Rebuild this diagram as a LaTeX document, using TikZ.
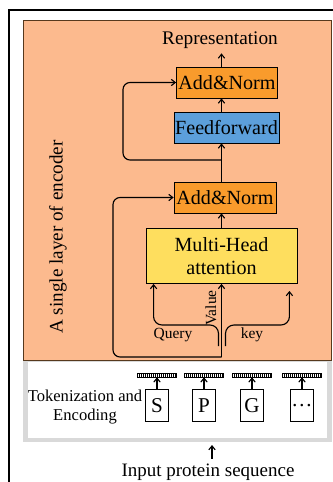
\documentclass[tikz,border=0pt]{standalone}
\usepackage{fontspec}
\setmainfont{Liberation Serif}
\usetikzlibrary{arrows.meta, positioning}
\definecolor{encbg}{HTML}{FCBA8E}
\definecolor{addorange}{HTML}{F99B2C}
\definecolor{ffblue}{HTML}{5C9FDB}
\definecolor{mhayellow}{HTML}{FEDE5E}

\tikzset{
    arr/.style={line width=0.8pt, -{Straight Barb[length=2.8pt,width=4.5pt]}},
    block/.style={draw, line width=0.6pt, inner sep=0pt, font=\fontsize{14.3}{16.5}\selectfont},
    lbl/.style={font=\fontsize{11}{13}\selectfont, inner sep=1pt},
    tokbox/.style={draw, line width=0.5pt, fill=white, minimum width=5.75mm, minimum height=8mm, inner sep=0pt, font=\fontsize{15}{17}\selectfont},
    tokbar/.style={draw, line width=0.4pt, minimum width=9.75mm, minimum height=1mm, inner sep=0pt,
        path picture={\foreach \k in {0.5,1,...,9.5}
            \draw[line width=0.3pt] ([xshift=\k mm]path picture bounding box.south west) -- ++(0,1mm);}}
}

\begin{document}
\begin{tikzpicture}[x=0.25mm, y=-0.25mm]
        \useasboundingbox (0,0) rectangle (333,482);

        % Outer frame
        \draw[line width=1.1pt] (9,520) -- (9,10) -- (360,10) -- (360,520);

        % Tokenization box
        \draw[draw=black!15, line width=3.5pt, fill=white] (25.5,360) rectangle (329.5,440);
        \node[lbl, font=\fontsize{11.8}{13.5}\selectfont, align=center] (toklbl) at (85,407) {Tokenization and\\Encoding};

        % The encoder layer background
        \draw[fill=encbg, draw=black!55!brown, line width=0.6pt] (23,20) rectangle (331,360);
        \node[rotate=90, font=\fontsize{13.6}{16}\selectfont] (enclbl) at (58,237) {A single layer of encoder};

        % Blocks of the encoder
        \node (repr) at (220,40) {\fontsize{13.7}{16}\selectfont Representation};
        \node[block, fill=addorange, minimum width=25.25mm, minimum height=7.75mm] (addtop) at (227,82.5) {Add\&Norm};
        \node[block, fill=ffblue, minimum width=26.25mm, minimum height=7.75mm] (ff) at (226.5,127.5) {Feedforward};
        \node[block, fill=addorange, minimum width=25.5mm, minimum height=7.75mm] (addlow) at (225,197.5) {Add\&Norm};
        \node[block, fill=mhayellow, minimum width=37.75mm, minimum height=13.75mm, align=center] (mha) at (221.5,256) {Multi-Head\\attention};

        % Points on the main line
        \coordinate (spine) at (221.5,357);
        \coordinate (split) at (221.5,160);
        \coordinate (qs) at (218.5,346);
        \coordinate (ks) at (225.5,346);

        % Main line and residual connections
        \draw[arr] (spine) -- (mha.south -| spine);
        \draw[arr] (mha.north -| spine) -- (addlow.south -| spine);
        \draw[arr] (addlow.north -| spine) -- (ff.south -| spine);
        \draw[arr] (ff.north -| spine) -- (addtop.south -| spine);
        \draw[arr] (addtop.north -| spine) -- (repr.south -| spine);
        \draw[arr, rounded corners=5pt] (spine) -- (113,357) |- (addlow.west);
        \draw[arr, rounded corners=5pt] (split) -- (123,160) |- (addtop.west);

        % Query and key
        \draw[arr, rounded corners=6pt] (qs) -- (218.5,325) -| ([xshift=2mm]mha.south west);
        \draw[arr, rounded corners=6pt] (ks) -- (225.5,325) -| ([xshift=-2mm,yshift=-1.75mm]mha.south east);
        \node[lbl] (qlbl) at (173,335) {Query};
        \node[lbl] (klbl) at (252,335) {key};
        \node[lbl, rotate=90] (vlbl) at (211,308) {Value};

        % Tokens and their embeddings
        \foreach \t/\x [count=\i] in {S/157, P/204, G/252, \ldots/302} {
            \node[tokbox] (tok\i) at (\x,405.5) {\t};
            \node[tokbar] (bar\i) at (\x,375) {};
            \draw[arr] (tok\i.north) -- (bar\i.south);
        }

        % Input
        \coordinate (seqin) at (212,445);
        \node (inp) at (208,472) {\fontsize{13.5}{16}\selectfont Input protein sequence};
        \draw[arr] (inp.north -| seqin) -- (seqin);
    \end{tikzpicture}
\end{document}
